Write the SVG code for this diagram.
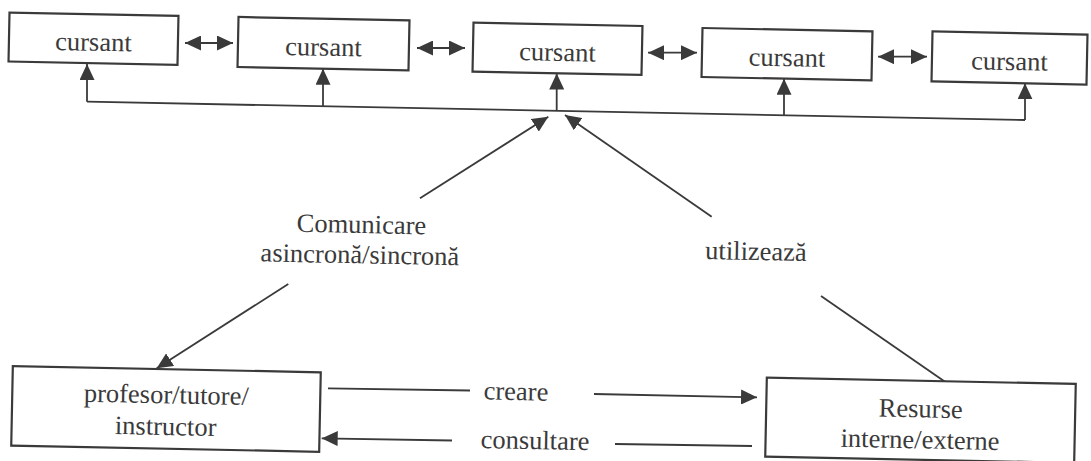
<svg xmlns="http://www.w3.org/2000/svg" width="1091" height="461" viewBox="0 0 1091 461">
<defs>
<marker id="ah" viewBox="0 0 16 15" refX="16" refY="7.5" markerWidth="16" markerHeight="15" markerUnits="userSpaceOnUse" orient="auto-start-reverse"><path d="M0,0 L16,7.5 L0,15 z" fill="#3a3a3a"/></marker>
</defs>
<style>
.box{fill:#fff;stroke:#3a3a3a;stroke-width:2.2}
.t{font-family:'Liberation Serif','Times New Roman','DejaVu Serif',serif;font-size:26.5px;fill:#3a3a3a;text-anchor:middle}
.c{fill:none;stroke:#3a3a3a;stroke-width:1.8}
.a{marker-end:url(#ah)}
.d{marker-start:url(#ah);marker-end:url(#ah)}
</style>
<rect width="1091" height="461" fill="#fff"/>
<g id="connectors">
<line class="c" x1="87" y1="101.7" x2="1025" y2="120"/>
<line class="c a" x1="87" y1="101.7" x2="87" y2="64"/>
<line class="c a" x1="323" y1="106.3" x2="323" y2="68.7"/>
<line class="c a" x1="556.7" y1="110.9" x2="556.7" y2="73.5"/>
<line class="c a" x1="784" y1="115.3" x2="784" y2="78.7"/>
<line class="c a" x1="1025" y1="120" x2="1025" y2="83.3"/>
<line class="c d" x1="185" y1="43" x2="233" y2="43"/>
<line class="c d" x1="417" y1="48" x2="465" y2="48"/>
<line class="c d" x1="648" y1="52.7" x2="697" y2="52.7"/>
<line class="c d" x1="878" y1="56.7" x2="927" y2="56.7"/>
<line class="c a" x1="420" y1="198.3" x2="548.3" y2="116.7"/>
<line class="c a" x1="711.7" y1="216.7" x2="565" y2="115"/>
<line class="c a" x1="288.3" y1="284" x2="156.7" y2="368.3"/>
<line class="c" x1="821" y1="296" x2="945" y2="381.7"/>
<line class="c" x1="328" y1="388.3" x2="470" y2="390.5"/>
<line class="c a" x1="594" y1="394" x2="757" y2="397.3"/>
<line class="c a" x1="452" y1="440.5" x2="321.7" y2="438.3"/>
<line class="c" x1="615" y1="444" x2="752" y2="446"/>
</g>
<g id="lbl-comunicare" transform="rotate(1.15 360 248)">
<text class="t" x="361" y="233">Comunicare</text>
<text class="t" x="360" y="263.3">asincronă/sincronă</text>
</g>
<g id="lbl-utilizeaza" transform="rotate(1.15 756 252)"><text class="t" x="756" y="260">utilizează</text></g>
<g id="lbl-creare" transform="rotate(1.15 516 392)"><text class="t" x="516" y="400">creare</text></g>
<g id="lbl-consultare" transform="rotate(1.15 535 441)"><text class="t" x="535" y="449">consultare</text></g>
<g id="cursant1" transform="rotate(1.15 93.5 38.7)"><rect class="box" x="9" y="14.2" width="169" height="49"/><text class="t" x="93.5" y="50.7">cursant</text></g>
<g id="cursant2" transform="rotate(1.15 323.5 43.7)"><rect class="box" x="238" y="18.7" width="171" height="50"/><text class="t" x="323.5" y="55.7">cursant</text></g>
<g id="cursant3" transform="rotate(1.15 557.5 48.8)"><rect class="box" x="473" y="24.3" width="169" height="49"/><text class="t" x="557.5" y="60.8">cursant</text></g>
<g id="cursant4" transform="rotate(1.15 787 54.2)"><rect class="box" x="702" y="29.7" width="170" height="49"/><text class="t" x="787" y="66.2">cursant</text></g>
<g id="cursant5" transform="rotate(1.15 1009.5 58)"><rect class="box" x="932" y="33" width="155" height="50"/><text class="t" x="1009.5" y="70">cursant</text></g>
<g id="profesor" transform="rotate(1.15 166 409)"><rect class="box" x="12" y="369.2" width="308" height="79.5"/><text class="t" x="166" y="403.3">profesor/tutore/</text><text class="t" x="166" y="435">instructor</text></g>
<g id="resurse" transform="rotate(1.15 920.5 420.3)"><rect class="box" x="766" y="380.8" width="309" height="79"/><text class="t" x="920.5" y="417.3">Resurse</text><text class="t" x="920.5" y="448.3">interne/externe</text></g>
</svg>
